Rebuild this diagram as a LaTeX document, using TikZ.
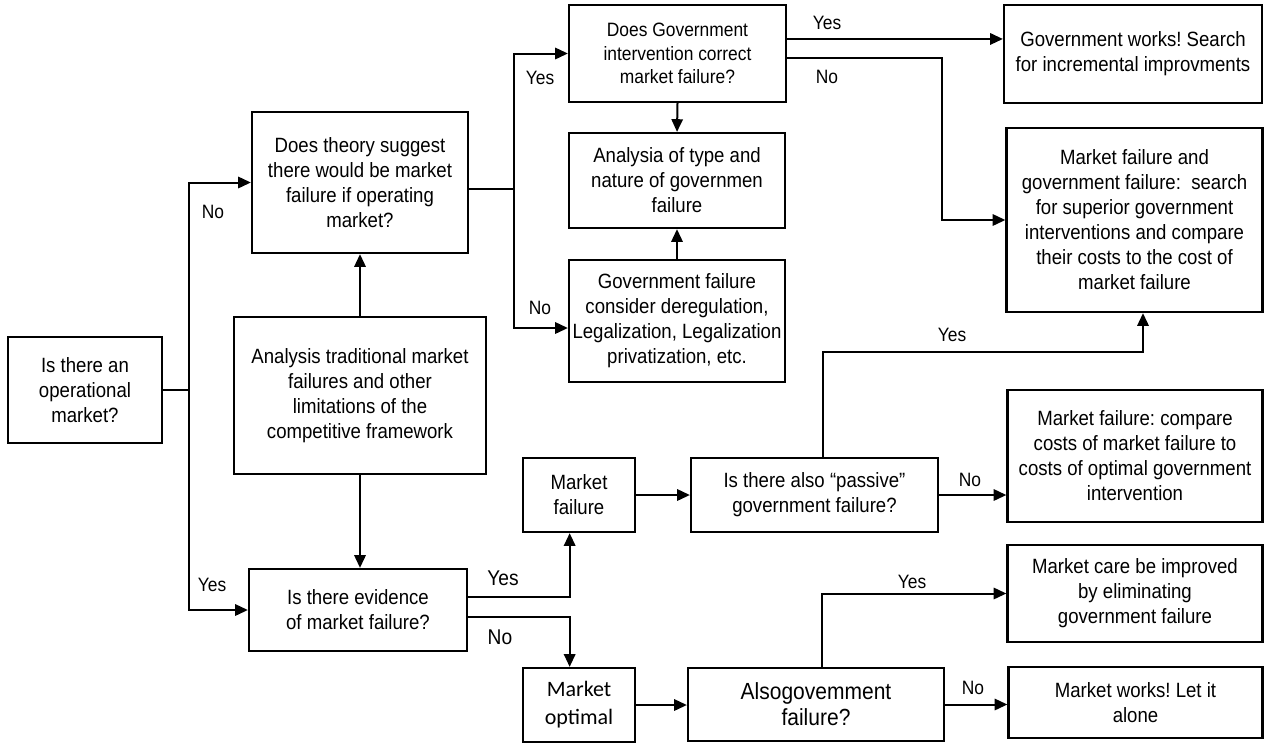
\documentclass[tikz,border=0pt]{standalone}
\usepackage{fontspec}
\setmainfont{Liberation Sans}[FakeStretch=0.9]
\newfontfamily\calfont{Carlito}
\usetikzlibrary{arrows.meta}
\frenchspacing
\begin{document}
\begin{tikzpicture}[x=0.75pt,y=-0.75pt,
  box/.style={draw, line width=1.7pt, align=center, inner sep=1pt,
    font=\fontsize{15.5}{18.75}\selectfont},
  lbl/.style={inner sep=0pt, font=\fontsize{14.5}{16}\selectfont},
  biglbl/.style={inner sep=0pt, font=\fontsize{16}{18}\selectfont},
  ln/.style={line width=1.5pt},
  arr/.style={line width=1.5pt, -{Triangle[length=9.5pt,width=8.5pt]}}]
\useasboundingbox (0,0) rectangle (1264,747);

% boxes
\node[box, minimum width=115.5pt, minimum height=79.5pt] (q1) at (85,390) {Is there an\\operational\\market?};
\node[box, minimum width=162pt, minimum height=105.75pt] (theory) at (360,182.5) {Does theory suggest\\there would be market\\failure if operating\\market?};
\node[box, minimum width=189pt, minimum height=117.75pt] (trad) at (360,395.5) {Analysis traditional market\\failures and other\\limitations of the\\competitive framework};
\node[box, minimum width=163.5pt, minimum height=61.5pt] (evid) at (358,610) {Is there evidence\\of market failure?};
\node[box, minimum width=162.75pt, minimum height=72.75pt, font=\fontsize{14.5}{17.5}\selectfont] (govq) at (677.5,53.5) {Does Government\\intervention correct\\market failure?};
\node[box, minimum width=162pt, minimum height=71.25pt] (type) at (677,180.5) {Analysia of type and\\nature of governmen\\failure};
\node[box, minimum width=162pt, minimum height=91.5pt] (gfail) at (677,321) {Government failure\\consider deregulation,\\Legalization, Legalization\\privatization, etc.};
\node[box, minimum width=193.5pt, minimum height=73.5pt] (works) at (1133,54) {Government works! Search\\for incremental improvments};
\node[box, minimum width=192pt, minimum height=138pt] (mfgf) at (1134.5,220) {Market failure and\\government failure:\ \ search\\for superior government\\interventions and compare\\their costs to the cost of\\market failure};
\node[box, minimum width=84pt, minimum height=55.5pt] (mfail) at (579,495) {Market\\failure};
\node[box, minimum width=84pt, minimum height=55.5pt, font=\calfont\fontsize{16.5}{21}\selectfont] (mopt) at (579,705) {Market\\optimal};
\node[box, minimum width=185.25pt, minimum height=55.5pt] (passive) at (814.5,495) {Is there also “passive”\\government failure?};
\node[box, minimum width=191.25pt, minimum height=99pt] (compare) at (1135,456) {Market failure: compare\\costs of market failure to\\costs of optimal government\\intervention};
\node[box, minimum width=192pt, minimum height=54.75pt, font=\fontsize{17.5}{19.5}\selectfont] (also) at (816,704.5) {Alsogovemment\\failure?};
\node[box, minimum width=191.25pt, minimum height=72.75pt] (care) at (1135,593.5) {Market care be improved\\by eliminating\\government failure};
\node[box, minimum width=190.5pt, minimum height=53.25pt] (mworks) at (1135.5,702.5) {Market works! Let it\\alone};

% junction coordinates
\coordinate (jL) at (189,390);
\coordinate (jT) at ([yshift=-4.5pt]theory.east -| 514,0);
\coordinate (jN) at (942,220);
\coordinate (pY1) at (823,352);
\coordinate (pY2) at (1143,352);
\coordinate (aY) at (822,596);

% left trunk
\draw[ln] (q1.east) -- (jL);
\draw[arr] (jL) |- (theory.west);
\draw[arr] (jL) |- (evid.west);
\node[lbl] (lNo1) at (213,212) {No};
\node[lbl] (lYes1) at (212,585) {Yes};

% analysis box
\draw[arr] (trad.north) -- (theory.south);
\draw[arr] (trad.south) -- (trad.south |- evid.north);

% theory branches
\draw[ln] ([yshift=-4.5pt]theory.east) -- (jT);
\draw[arr] (jT) |- (govq.west);
\draw[arr] (jT) |- ([yshift=-5.25pt]gfail.west);
\node[lbl] (lYes2) at (540,78) {Yes};
\node[lbl] (lNo2) at (540,308) {No};

\draw[arr] (govq.south) -- (type.north);
\draw[arr] (gfail.north) -- (type.south);

% government question branches
\draw[arr] ([yshift=10.9pt]govq.east) -- ([yshift=10.9pt]govq.east -| works.west);
\draw[arr] ([yshift=-3.4pt]govq.east) -| (jN) -- (mfgf.west);
\node[lbl] (lYes3) at (827,23) {Yes};
\node[lbl] (lNo3) at (827,77) {No};

% evidence branches
\draw[arr] ([yshift=9.75pt]evid.east) -| ([xshift=-7pt]mfail.south);
\draw[arr] ([yshift=-5.25pt]evid.east) -| ([xshift=-7pt]mopt.north);
\node[biglbl] (lYes4) at (503,578) {Yes};
\node[biglbl] (lNo4) at (500,637) {No};

\draw[arr] (mfail.east) -- (mfail.east -| passive.west);
\draw[arr] (mopt.east) -- (mopt.east -| also.west);

% passive branches
\draw[arr] (pY1 |- passive.north) -- (pY1) -- (pY2) -- (pY2 |- mfgf.south);
\node[lbl] (lYes5) at (952,335) {Yes};
\draw[arr] (passive.east) -- (passive.east -| compare.west);
\node[lbl] (lNo5) at (970,480) {No};

% also branches
\draw[arr] (aY |- also.north) |- (care.west);
\node[lbl] (lYes6) at (912,582) {Yes};
\draw[arr] (also.east) -- (also.east -| mworks.west);
\node[lbl] (lNo6) at (973,688) {No};
\end{tikzpicture}
\end{document}
